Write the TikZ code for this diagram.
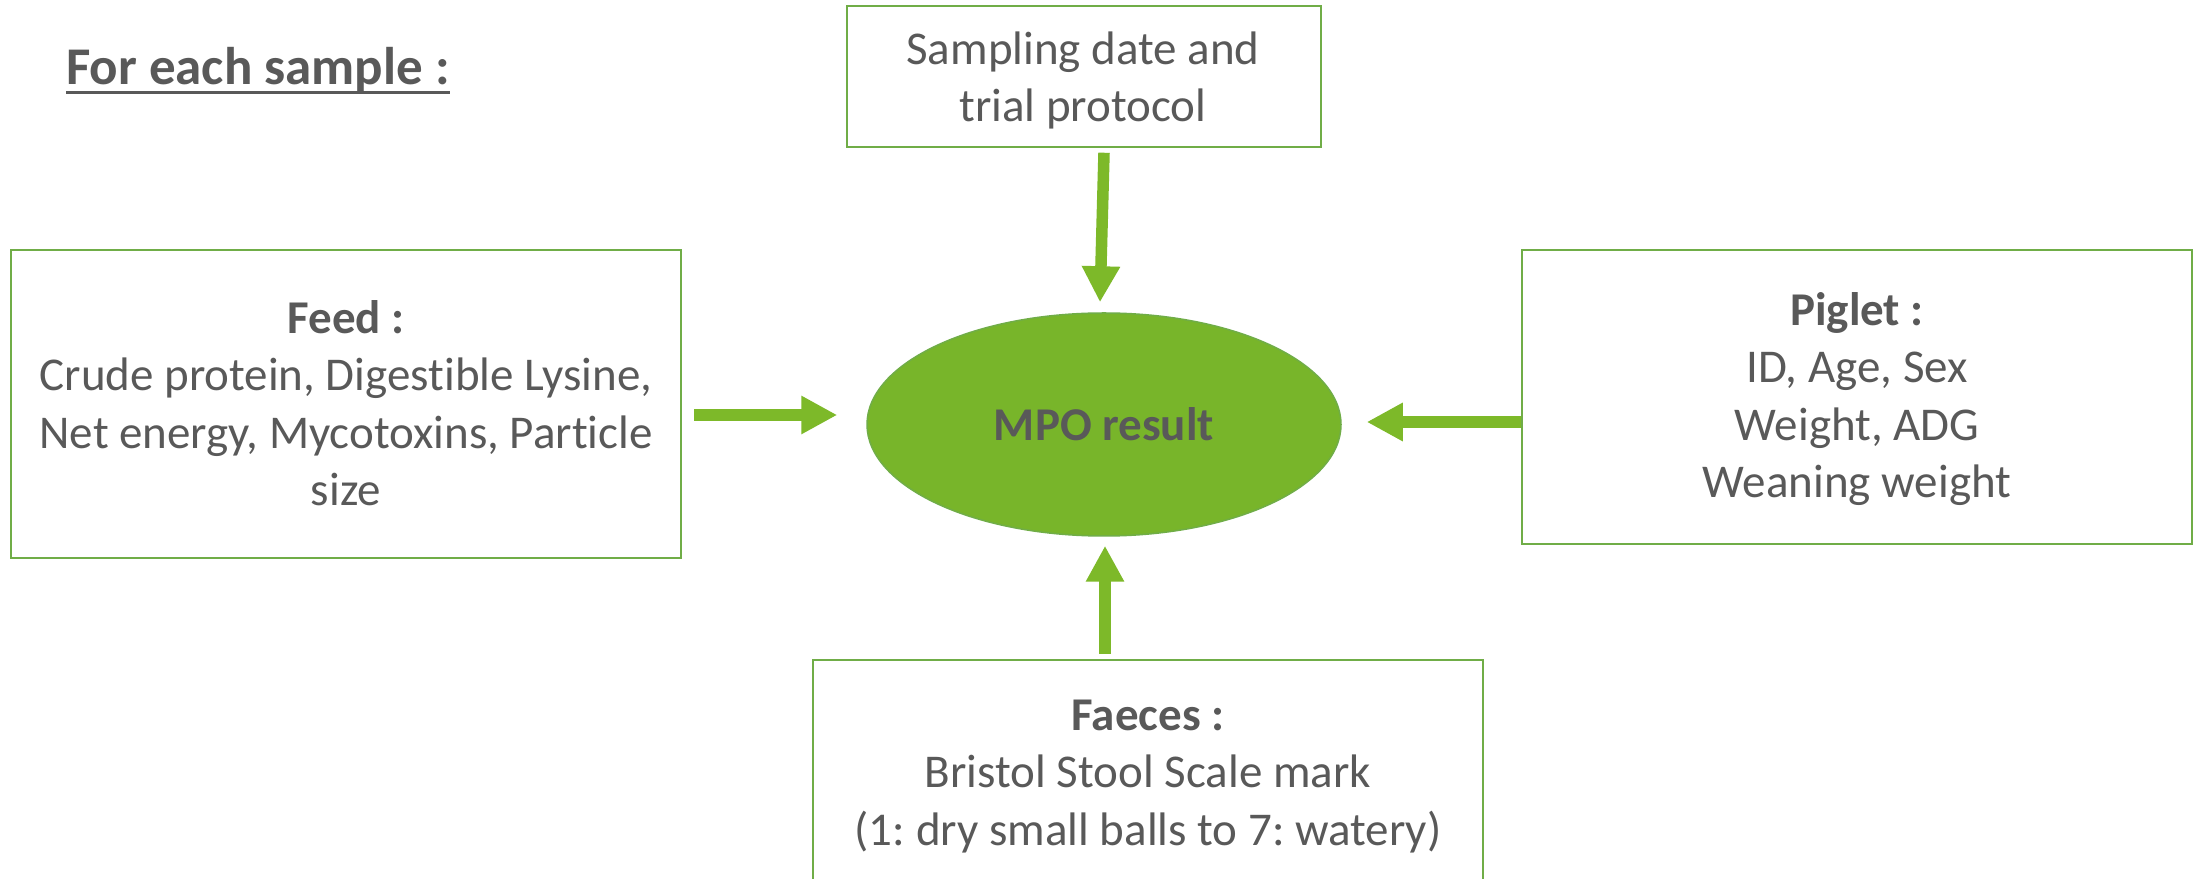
\documentclass[tikz,border=0pt]{standalone}
\usepackage{fontspec}
\setmainfont{Carlito}[Ligatures=NoCommon]
\usetikzlibrary{arrows.meta,shapes.geometric,calc}

\definecolor{textgray}{HTML}{595959}
\definecolor{boxgreen}{HTML}{70AD47}
\definecolor{fillgreen}{HTML}{78B52A}
\definecolor{arrowgreen}{HTML}{7DB929}

\frenchspacing
% underline drawn as a rule of fixed offset and thickness
\newcommand\ulrule[1]{\setbox0\hbox{#1}\rlap{\rule[-9.5pt]{\wd0}{3.2pt}}\box0}

\tikzset{
  infobox/.style={draw=boxgreen, line width=2.5pt, fill=white, inner sep=0pt},
  infotext/.style={text=textgray, align=center, anchor=base, inner sep=0pt,
    font=\fontsize{47}{57.5}\selectfont},
  resultnode/.style={ellipse, draw=boxgreen, line width=1.5pt, fill=fillgreen,
    inner sep=0pt, minimum width=474pt, minimum height=223pt,
    text=textgray, font=\fontsize{47}{57.5}\selectfont\bfseries},
  flow/.style={draw=arrowgreen, line width=11.5pt,
    -{Triangle[length=36pt,width=36pt]}},
}

\begin{document}
\begin{tikzpicture}[x=1pt,y=1pt]
\useasboundingbox (0,0) rectangle (2202,878);
\clip (0,0) rectangle (2202,878);
\fill[white] (0,0) rectangle (2202,878);

% heading
\node[anchor=base west, inner sep=0pt, text=textgray,
      font=\fontsize{53}{64}\selectfont\bfseries] (heading) at (66,793)
  {\ulrule{For each sample :}};

% information boxes
\node[infobox, minimum width=474pt, minimum height=141pt] (protocol) at (1084,801.5) {};
\node[infobox, minimum width=670pt, minimum height=308pt] (feed) at (346,474) {};
\node[infobox, minimum width=670pt, minimum height=294pt] (piglet) at (1857,481) {};
\node[infobox, minimum width=670pt, minimum height=300pt] (faeces) at (1148,68) {};

% box texts (anchored on the baseline of their last line)
\node[infotext] (protocoltext) at (1083,756) {Sampling date and\\trial protocol};
\node[infotext] (feedtext) at (346,372)
  {\textbf{Feed :}\\Crude protein, Digestible Lysine,\\Net energy, Mycotoxins, Particle\\size};
\node[infotext] (piglettext) at (1857,380)
  {\textbf{Piglet :}\\ID, Age, Sex\\Weight, ADG\\Weaning weight};
\node[infotext] (faecestext) at (1148,33)
  {\textbf{Faeces :}\\Bristol Stool Scale mark\\(1: dry small balls to 7: watery)};

% central result
\node[resultnode] (mpo) at (1104,453.5) {MPO result};

% inputs converging on the result
\draw[flow] ([shift={(20pt,-4.5pt)}]protocol.south) -- ([shift={(-4pt,10pt)}]mpo.north);
\draw[flow] ([shift={(12pt,-11pt)}]feed.east) -- ([shift={(-29pt,9.5pt)}]mpo.west);
\draw[flow] ([shift={(0pt,-25pt)}]piglet.west) -- ([shift={(25pt,2.5pt)}]mpo.east);
\draw[flow] ([shift={(-43pt,5pt)}]faeces.north) -- ([shift={(1pt,-9pt)}]mpo.south);
\end{tikzpicture}
\end{document}
